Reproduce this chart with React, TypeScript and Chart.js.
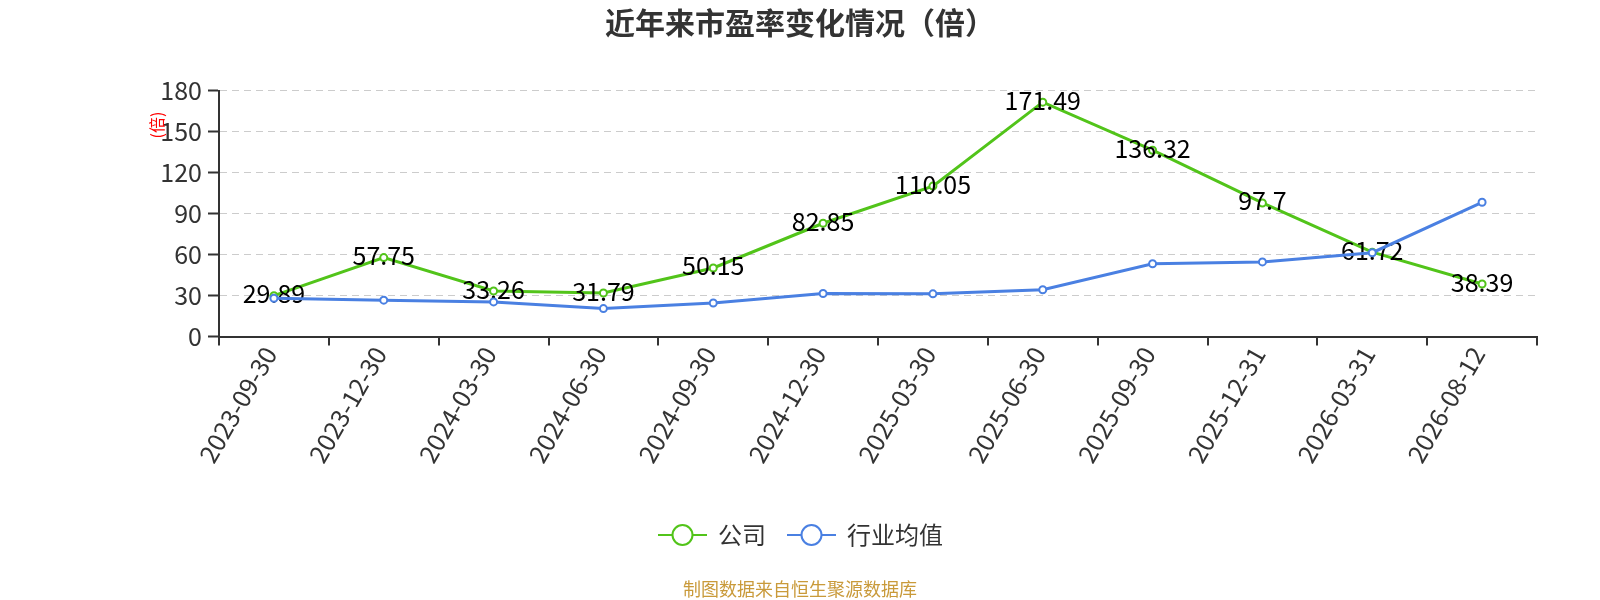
import React, { useEffect, useRef } from 'react';
import { Chart, registerables } from 'chart.js';

Chart.register(...registerables);

const FONT = '"Noto Sans CJK SC", "Noto Sans", sans-serif';

const dates = [
  '2023-09-30', '2023-12-30', '2024-03-30', '2024-06-30', '2024-09-30', '2024-12-30',
  '2025-03-30', '2025-06-30', '2025-09-30', '2025-12-31', '2026-03-31', '2026-08-12',
];
const companyPE = [29.89, 57.75, 33.26, 31.79, 50.15, 82.85, 110.05, 171.49, 136.32, 97.7, 61.72, 38.39];
const industryPE = [28, 26.6, 25.3, 20.4, 24.5, 31.5, 31.2, 34.2, 53.2, 54.6, 61.3, 98.2];
const seriesNames = ['公司', '行业均值'];
const seriesColors = ['#52c41a', '#4a80e2'];
const yMax = 180;
const yStep = 30;

const titleText = '近年来市盈率变化情况（倍）';
const yAxisName = '(倍)';
const sourceText = '制图数据来自恒生聚源数据库';

const overlayPlugin = {
  id: 'overlay',
  afterDatasetDraw(chart: any, args: any) {
    if (args.index !== 0) return;
    const ctx = chart.ctx;
    ctx.save();
    ctx.font = `25px ${FONT}`;
    ctx.fillStyle = '#000';
    ctx.textAlign = 'center';
    ctx.textBaseline = 'middle';
    args.meta.data.forEach((pt: any, i: number) => {
      ctx.fillText(String(companyPE[i]), pt.x, pt.y - 2);
    });
    ctx.restore();
  },
  afterDraw(chart: any) {
    const ctx = chart.ctx;
    const cx = chart.width / 2;
    ctx.save();

    // title
    ctx.font = `bold 30px ${FONT}`;
    ctx.fillStyle = '#333';
    ctx.textAlign = 'center';
    ctx.textBaseline = 'middle';
    ctx.fillText(titleText, cx, 15);

    // y axis name
    ctx.save();
    ctx.translate(149, 117);
    ctx.rotate(-Math.PI / 2);
    ctx.font = `16px ${FONT}`;
    ctx.fillStyle = '#ff0000';
    ctx.fillText(yAxisName, 0, 0);
    ctx.restore();

    // legend
    const ly = 527;
    const items = [
      { x: 650, tx: 710 },
      { x: 779, tx: 839 },
    ];
    items.forEach((it, i) => {
      ctx.strokeStyle = seriesColors[i];
      ctx.lineWidth = 2;
      ctx.beginPath();
      ctx.moveTo(it.x, ly);
      ctx.lineTo(it.x + 49, ly);
      ctx.stroke();
      ctx.beginPath();
      ctx.arc(it.x + 24.5, ly, 10, 0, Math.PI * 2);
      ctx.fillStyle = '#fff';
      ctx.fill();
      ctx.stroke();
      ctx.font = `24px ${FONT}`;
      ctx.fillStyle = '#333';
      ctx.textAlign = 'left';
      ctx.fillText(seriesNames[i], it.tx, ly);
    });

    // source
    ctx.font = `18px ${FONT}`;
    ctx.fillStyle = '#c99a3a';
    ctx.textAlign = 'center';
    ctx.fillText(sourceText, cx, 581);
    ctx.restore();
  },
};

export default function App() {
  const canvasRef = useRef<HTMLCanvasElement>(null);

  useEffect(() => {
    if (!canvasRef.current) return;
    const chart = new Chart(canvasRef.current, {
      type: 'line',
      data: {
        labels: dates,
        datasets: [
          {
            label: seriesNames[0],
            data: companyPE,
            borderColor: seriesColors[0],
            backgroundColor: '#fff',
            borderWidth: 3,
            pointRadius: 3.5,
            pointBorderWidth: 2,
            pointBackgroundColor: '#fff',
            pointBorderColor: seriesColors[0],
            tension: 0,
            order: 1,
          },
          {
            label: seriesNames[1],
            data: industryPE,
            borderColor: seriesColors[1],
            backgroundColor: '#fff',
            borderWidth: 3,
            pointRadius: 3.5,
            pointBorderWidth: 2,
            pointBackgroundColor: '#fff',
            pointBorderColor: seriesColors[1],
            tension: 0,
            order: 0,
          },
        ],
      },
      options: {
        responsive: true,
        maintainAspectRatio: false,
        animation: false,
        layout: { padding: { top: 82.5, right: 55, bottom: 0, left: 0 } },
        plugins: {
          legend: { display: false },
          tooltip: { enabled: false },
        },
        scales: {
          x: {
            offset: true,
            afterFit: (scale: any) => { scale.height = 263.5; },
            grid: {
              display: true,
              offset: true,
              drawOnChartArea: false,
              drawTicks: true,
              tickLength: 9,
              color: '#333',
              lineWidth: 2,
            },
            border: { display: true, color: '#333', width: 2 },
            ticks: {
              autoSkip: false,
              maxRotation: 60,
              minRotation: 60,
              padding: -4,
              labelOffset: -4,
              color: '#333',
              font: { size: 25, family: FONT },
            },
          },
          y: {
            min: 0,
            max: yMax,
            afterFit: (scale: any) => { scale.width = 211; },
            grid: {
              color: (c: any) => (c.tick && c.tick.value === 0 ? 'rgba(0,0,0,0)' : '#ccc'),
              lineWidth: 1,
              tickColor: '#333',
              tickWidth: 2,
              tickLength: 11,
            },
            border: { display: true, color: '#333', width: 2, dash: [7, 5] },
            ticks: {
              stepSize: yStep,
              padding: 6,
              color: '#333',
              font: { size: 25, family: FONT },
            },
          },
        },
      },
      plugins: [overlayPlugin],
    });
    return () => chart.destroy();
  }, []);

  return (
    <div style={{ width: 1584, height: 592 }}>
      <canvas ref={canvasRef} />
    </div>
  );
}
